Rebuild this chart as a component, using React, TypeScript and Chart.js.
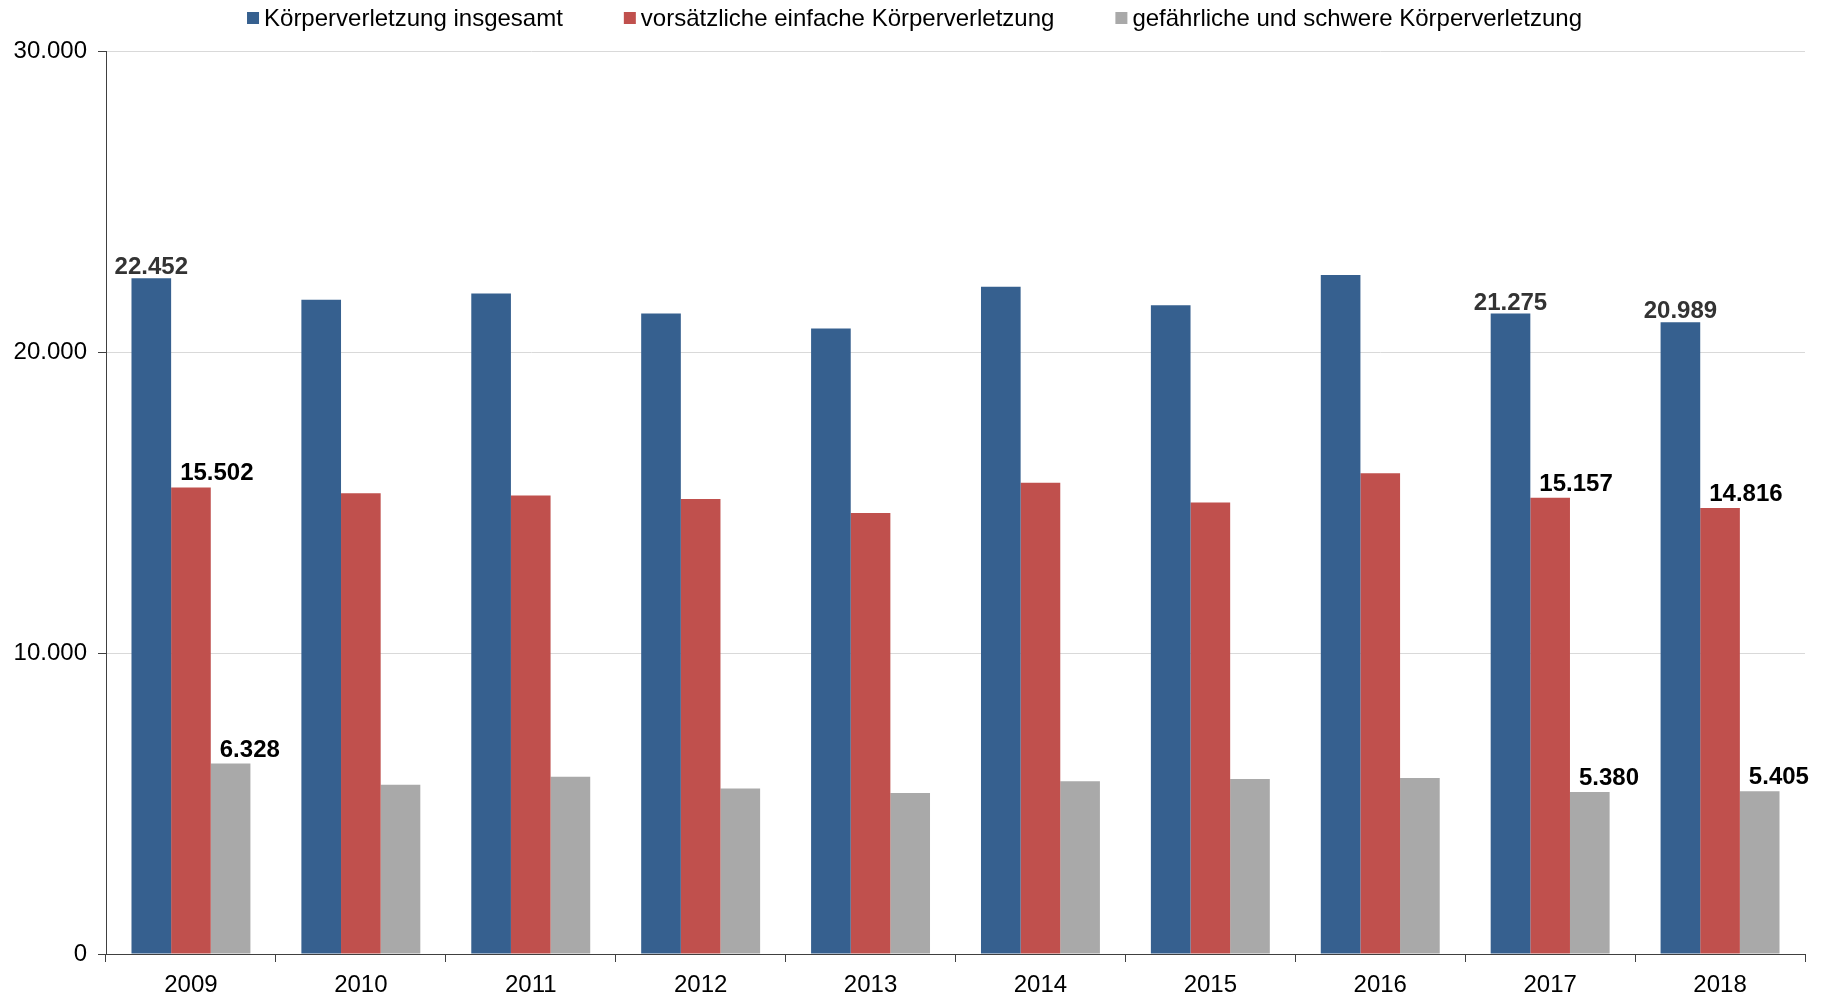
import React, { useEffect, useRef } from "react";
import { Chart, registerables } from "chart.js";

Chart.register(...registerables);

const years = ["2009", "2010", "2011", "2012", "2013", "2014", "2015", "2016", "2017", "2018"];
const seriesNames = [
  "Körperverletzung insgesamt",
  "vorsätzliche einfache Körperverletzung",
  "gefährliche und schwere Körperverletzung",
];
const insgesamt = [22452, 21740, 21940, 21280, 20780, 22170, 21550, 22560, 21275, 20989];
const einfache = [15502, 15310, 15230, 15120, 14650, 15660, 15000, 15970, 15157, 14816];
const schwere = [6328, 5620, 5890, 5500, 5350, 5740, 5810, 5850, 5380, 5405];
const labeledYears = ["2009", "2017", "2018"];
const yTicks = [0, 10000, 20000, 30000];

const colors = ["#36608F", "#C0504D", "#A9A9A9"];
const labelColors = ["#333333", "#000000", "#000000"];
const FONT = "'Liberation Sans', Arial, sans-serif";

const fmt = (v: number) => String(Math.round(v)).replace(/\B(?=(\d{3})+(?!\d))/g, ".");

const legendPlugin = {
  id: "customLegend",
  afterDraw(chart: any) {
    const ctx = chart.ctx;
    ctx.save();
    ctx.font = `24px ${FONT}`;
    const box = 12;
    const gapBox = 5;
    const gapItem = 61;
    const widths = seriesNames.map((t) => ctx.measureText(t).width);
    const total = widths.reduce((a, w) => a + box + gapBox + w, 0) + gapItem * (seriesNames.length - 1);
    let x = (chart.width - total) / 2;
    const cy = 18;
    ctx.textBaseline = "middle";
    ctx.textAlign = "left";
    seriesNames.forEach((t, i) => {
      ctx.fillStyle = colors[i];
      ctx.fillRect(x, cy - box / 2, box, box);
      ctx.fillStyle = "#000000";
      ctx.fillText(t, x + box + gapBox, cy + 1);
      x += box + gapBox + widths[i] + gapItem;
    });
    ctx.restore();
  },
};

const valueLabelPlugin = {
  id: "valueLabels",
  afterDatasetsDraw(chart: any) {
    const ctx = chart.ctx;
    ctx.save();
    ctx.font = `bold 24px ${FONT}`;
    ctx.textBaseline = "alphabetic";
    chart.data.datasets.forEach((ds: any, di: number) => {
      const meta = chart.getDatasetMeta(di);
      meta.data.forEach((bar: any, j: number) => {
        if (!labeledYears.includes(chart.data.labels[j])) return;
        const text = fmt(ds.data[j]);
        ctx.fillStyle = labelColors[di];
        if (di === 0) {
          ctx.textAlign = "center";
          ctx.fillText(text, bar.x, bar.y - 4);
        } else {
          ctx.textAlign = "left";
          ctx.fillText(text, bar.x - bar.width / 2 + 9, bar.y - 7);
        }
      });
    });
    ctx.restore();
  },
};

export default function App() {
  const ref = useRef<HTMLCanvasElement | null>(null);
  useEffect(() => {
    if (!ref.current) return;
    Chart.defaults.font.family = FONT;
    const data = [insgesamt, einfache, schwere];
    const chart = new Chart(ref.current, {
      type: "bar",
      data: {
        labels: years,
        datasets: seriesNames.map((name, i) => ({
          label: name,
          data: data[i],
          backgroundColor: colors[i],
          borderWidth: 0,
          categoryPercentage: 0.7,
          barPercentage: 1.0,
        })),
      },
      options: {
        responsive: false,
        animation: false,
        layout: { padding: { top: 51, right: 24, left: 0, bottom: 0 } },
        plugins: {
          legend: { display: false },
          tooltip: { enabled: false },
        },
        scales: {
          x: {
            grid: {
              display: true,
              drawOnChartArea: false,
              offset: true,
              tickColor: "#404040",
              tickLength: 8,
            },
            border: { color: "#404040", width: 1 },
            ticks: { color: "#000000", font: { size: 24 }, padding: 9 },
            afterFit: (s: any) => {
              s.height = 43;
            },
          },
          y: {
            min: 0,
            max: 30000,
            afterBuildTicks: (s: any) => {
              s.ticks = yTicks.map((v) => ({ value: v }));
            },
            grid: {
              color: "#D9D9D9",
              tickColor: "#404040",
              tickLength: 8,
            },
            border: { color: "#404040", width: 1 },
            ticks: {
              color: "#000000",
              font: { size: 24 },
              padding: 11,
              callback: (v: any) => fmt(Number(v)),
            },
            afterFit: (s: any) => {
              s.width = 106;
            },
          },
        },
      },
      plugins: [legendPlugin, valueLabelPlugin],
    });
    return () => chart.destroy();
  }, []);
  return (
    <div style={{ position: "fixed", left: 0, top: 0, width: 1829, height: 997, background: "#fff" }}>
      <canvas ref={ref} width={1829} height={997} style={{ display: "block" }} />
    </div>
  );
}
